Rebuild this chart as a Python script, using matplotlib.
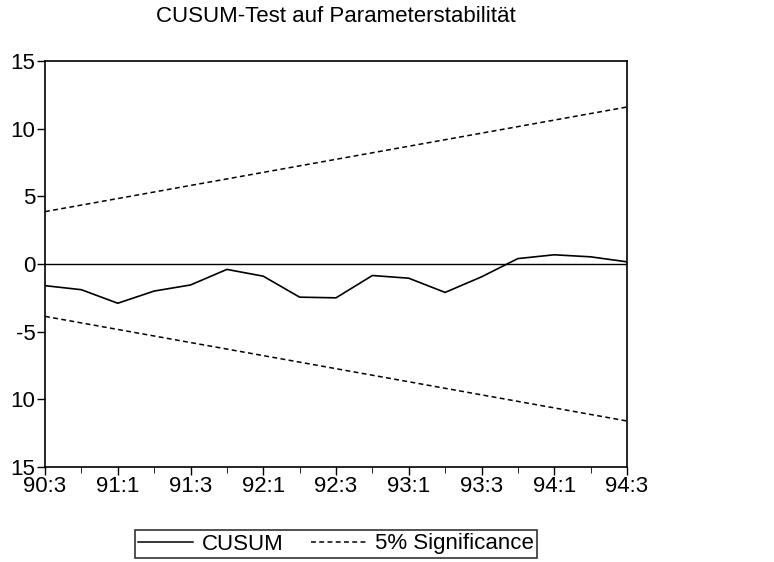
import matplotlib
matplotlib.use('Agg')
import matplotlib.pyplot as plt
from matplotlib.lines import Line2D

plt.rcParams['font.family'] = ['Liberation Sans', 'DejaVu Sans']

# quarterly periods 90:3 .. 94:3
quarters = ['90:3', '90:4', '91:1', '91:2', '91:3', '91:4', '92:1', '92:2', '92:3',
            '92:4', '93:1', '93:2', '93:3', '93:4', '94:1', '94:2', '94:3']
cusum = [-1.6, -1.9, -2.9, -2.0, -1.55, -0.4, -0.9, -2.45, -2.5,
         -0.85, -1.05, -2.1, -0.95, 0.4, 0.68, 0.53, 0.16]
# 5% significance bands (straight lines, start and end)
band_pos = [0, 16]
band_upper = [3.87, 11.6]
band_lower = [-3.87, -11.6]

ytick_vals = [15, 10, 5, 0, -5, -10, -15]
ytick_labels = ['15', '10', '5', '0', '-5', '10', '15']

fig = plt.figure(figsize=(7.74, 5.62), dpi=100)
ax = fig.add_axes([45/774, 1-467/562, 582/774, 406/562])

x = list(range(len(quarters)))
dash = (3.2, 2.2)
ax.plot(x, cusum, color='black', lw=1.2)
ax.plot(band_pos, band_upper, color='black', lw=1.1, dashes=dash)
ax.plot(band_pos, band_lower, color='black', lw=1.1, dashes=dash)
ax.axhline(0, color='black', lw=1.0)

ax.set_xlim(0, 16)
ax.set_ylim(-15, 15)
ax.set_xticks(x[::2])
ax.set_xticklabels(quarters[::2])
ax.set_xticks(x, minor=True)
ax.set_yticks(ytick_vals)
ax.set_yticklabels(ytick_labels)
ax.tick_params(axis='both', labelsize=16, direction='out', width=1.0, color='black')
ax.tick_params(axis='x', which='major', length=5.5, pad=1)
ax.tick_params(axis='x', which='minor', length=4)
ax.tick_params(axis='y', length=6, pad=1)
for s in ax.spines.values():
    s.set_linewidth(1.2)

fig.text(336/774, 1-16/562, 'CUSUM-Test auf Parameterstabilität', ha='center', va='center', fontsize=16)

handles = [Line2D([], [], color='black', lw=1.1),
           Line2D([], [], color='black', lw=1.1, dashes=dash)]
leg = fig.legend(handles, ['CUSUM', '5% Significance'], loc='center',
                 bbox_to_anchor=(336/774, 1-544/562), ncol=2, fontsize=16,
                 frameon=True, fancybox=False, edgecolor='black', handlelength=2.5,
                 columnspacing=1.2, handletextpad=0.4, borderpad=0.15, borderaxespad=0)
leg.get_frame().set_linewidth(1.2)

fig.savefig('out.png', dpi=100)
